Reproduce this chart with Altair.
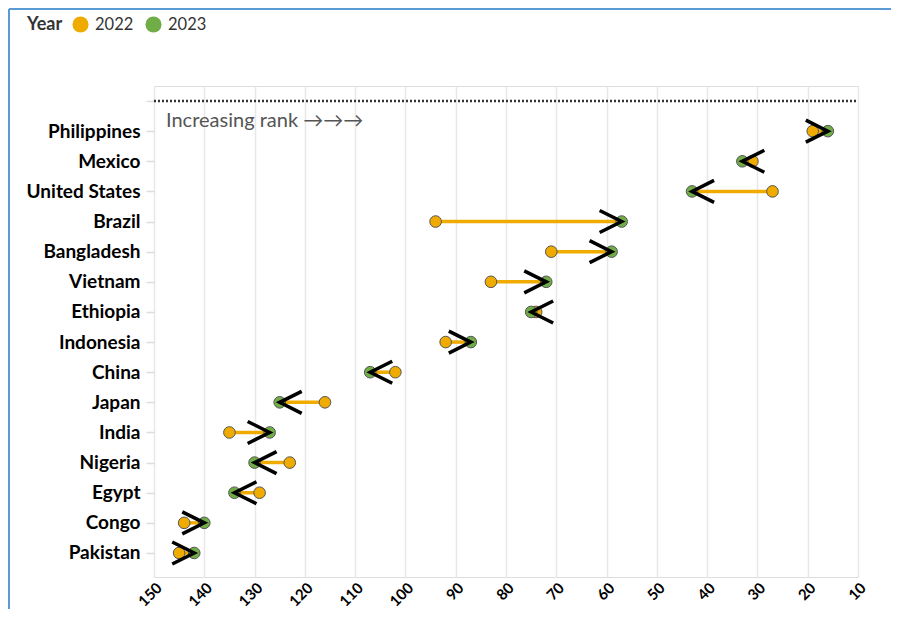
import altair as alt
import pandas as pd

countries = ["Philippines", "Mexico", "United States", "Brazil", "Bangladesh", "Vietnam",
             "Ethiopia", "Indonesia", "China", "Japan", "India", "Nigeria", "Egypt",
             "Congo", "Pakistan"]
rank_2022 = [19, 31, 27, 94, 71, 83, 74, 92, 102, 116, 135, 123, 129, 144, 145]
rank_2023 = [16, 33, 43, 57, 59, 72, 75, 87, 107, 125, 127, 130, 134, 140, 142]
years = ["2022", "2023"]
year_colors = ["#EFAB00", "#70AD47"]
x_ticks = [150, 140, 130, 120, 110, 100, 90, 80, 70, 60, 50, 40, 30, 20, 10]
note_text = "Increasing rank \u2192\u2192\u2192"
top_row = " "

FONT = "Lato"

wide = pd.DataFrame({"Country": countries, "r2022": rank_2022, "r2023": rank_2023})
wide["dir"] = ["right" if b < a else "left" for a, b in zip(rank_2022, rank_2023)]
long = pd.concat([
    pd.DataFrame({"Country": countries, "Year": years[0], "Rank": rank_2022}),
    pd.DataFrame({"Country": countries, "Year": years[1], "Rank": rank_2023}),
])
top = pd.DataFrame({"Country": [top_row], "x1": [x_ticks[0]], "x2": [x_ticks[-1]], "note": [note_text]})

y_dom = [top_row] + countries
xscale = alt.Scale(domain=[10, 150], reverse=True, nice=False, zero=False)
yscale = alt.Scale(type="point", domain=y_dom, padding=0.648, align=0.385)

y_enc = alt.Y("Country:N", scale=yscale, sort=y_dom,
              axis=alt.Axis(title=None, labelFontWeight="bold", labelFontSize=19,
                            labelColor="#000", labelFont=FONT, tickColor="#dddddd",
                            tickSize=8, tickWidth=1.5, domain=False, grid=False,
                            labelPadding=6))
x_axis = alt.Axis(title=None, values=x_ticks, grid=True, gridColor="#e8e8e8",
                  gridWidth=1.5, labelAngle=-45, labelFontWeight="bold",
                  labelFontSize=15, labelFont=FONT, labelColor="#000",
                  domain=False, ticks=False, labelPadding=3)

base_top = alt.Chart(top)
dotted = base_top.mark_rule(color="#333", strokeWidth=2.5, strokeDash=[2, 2]).encode(
    x=alt.X("x1:Q", scale=xscale, axis=x_axis), x2="x2:Q", y=y_enc)
note = base_top.mark_text(align="left", baseline="middle", dx=12, dy=20,
                          fontSize=20, font=FONT, color="#555").encode(
    x=alt.X("x1:Q", scale=xscale), y=alt.Y("Country:N", scale=yscale, sort=y_dom),
    text="note:N")

lines = alt.Chart(wide).mark_rule(color=year_colors[0], strokeWidth=3.5).encode(
    x=alt.X("r2022:Q", scale=xscale), x2="r2023:Q",
    y=alt.Y("Country:N", scale=yscale, sort=y_dom))

points = alt.Chart(long).mark_point(filled=True, shape="circle", size=135,
                                    stroke="#555", strokeWidth=1, opacity=1).encode(
    x=alt.X("Rank:Q", scale=xscale),
    y=alt.Y("Country:N", scale=yscale, sort=y_dom),
    color=alt.Color("Year:N", scale=alt.Scale(domain=years, range=year_colors),
                    legend=alt.Legend(title="Year", orient="none", direction="horizontal",
                                      legendX=-127, legendY=-70, titleOrient="left",
                                      titleFontSize=18, titleFontWeight="bold",
                                      titleFont=FONT, titleColor="#333",
                                      labelFontSize=16.5, labelFont=FONT, labelColor="#333",
                                      symbolSize=260, symbolStrokeWidth=0,
                                      symbolType="circle", columnPadding=11,
                                      labelOffset=6, titlePadding=9)),
    stroke=alt.value("#555"))

path_right = "M-2,-1L0,0L-2,1"
path_left = "M2,-1L0,0L2,1"
chevrons = alt.Chart(wide).mark_point(filled=False, size=484, color="#000",
                                      strokeWidth=3.5, opacity=1,
                                      strokeJoin="miter").encode(
    x=alt.X("r2023:Q", scale=xscale),
    y=alt.Y("Country:N", scale=yscale, sort=y_dom),
    shape=alt.Shape("dir:N", scale=alt.Scale(domain=["right", "left"],
                                             range=[path_right, path_left]),
                    legend=None))

border_l = alt.Chart(top).mark_rule(color="#5B9BD5", strokeWidth=2).encode(
    x=alt.value(-145), y=alt.value(-77), y2=alt.value(700))
border_t = alt.Chart(top).mark_rule(color="#5B9BD5", strokeWidth=2).encode(
    x=alt.value(-145), x2=alt.value(800), y=alt.value(-77))

chart = alt.layer(dotted, note, lines, points, chevrons, border_l, border_t).properties(
    width=704, height=491,
    autosize=alt.AutoSizeParams(type="none"),
    padding={"left": 146, "top": 78, "right": 33, "bottom": 32},
).configure_view(stroke=None).configure(font=FONT)

chart.save("out.html", embed_options={"renderer": "svg", "actions": False})
